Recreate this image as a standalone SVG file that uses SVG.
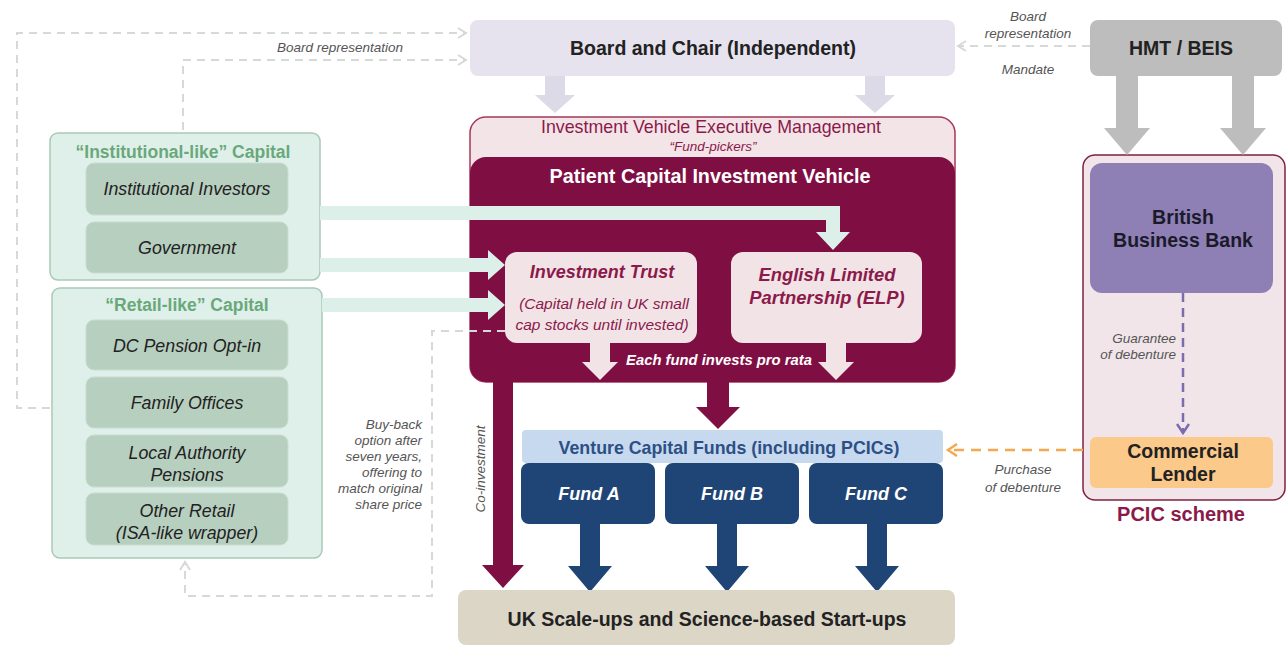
<svg xmlns="http://www.w3.org/2000/svg" width="1286" height="648" viewBox="0 0 1286 648">
<defs>
<style>
text{font-family:"Liberation Sans",Arial,sans-serif}
.b{font-weight:bold}
.i{font-style:italic}
.lbl{font-size:13.5px;font-style:italic;fill:#555}
.dash{fill:none;stroke:#d6dad6;stroke-width:2;stroke-dasharray:8,6}
.inner{fill:#b7cfbf;stroke:#c9dccf;stroke-width:1}
.itxt{font-size:17.8px;font-style:italic;fill:#222;text-anchor:middle}
.fund{fill:#1f4576}
.ftxt{font-size:18px;font-weight:bold;font-style:italic;fill:#fff;text-anchor:middle}
</style>
<marker id="ag" markerWidth="12" markerHeight="12" refX="10" refY="6" orient="auto" markerUnits="userSpaceOnUse"><path d="M2,1 L10,6 L2,11" fill="none" stroke="#d6dad6" stroke-width="2"/></marker>
<marker id="ap" markerWidth="14" markerHeight="14" refX="11" refY="7" orient="auto" markerUnits="userSpaceOnUse"><path d="M2,1 L11,7 L2,13" fill="none" stroke="#7b6cb0" stroke-width="2.5"/></marker>
<marker id="ao" markerWidth="14" markerHeight="14" refX="11" refY="7" orient="auto" markerUnits="userSpaceOnUse"><path d="M2,1 L11,7 L2,13" fill="none" stroke="#f6a84e" stroke-width="2.5"/></marker>
</defs>
<rect width="1286" height="648" fill="#fff"/>

<g id="board">
<rect x="470" y="20" width="485" height="56" rx="8" fill="#e6e3ef"/>
<text x="713" y="55" class="b" font-size="19.5" fill="#222" text-anchor="middle">Board and Chair (Independent)</text>
</g>
<text x="340" y="52" class="lbl" text-anchor="middle">Board representation</text>

<g id="hmt">
<rect x="1090" y="20" width="192" height="56" rx="8" fill="#bdbdbd"/>
<text x="1181" y="55" class="b" font-size="19.5" fill="#222" text-anchor="middle">HMT / BEIS</text>
</g>
<text x="1028" y="21" class="lbl" text-anchor="middle">Board</text>
<text x="1028" y="38" class="lbl" text-anchor="middle">representation</text>
<text x="1028" y="74" class="lbl" text-anchor="middle">Mandate</text>

<g id="institutional">
<rect x="50" y="133" width="270" height="147" rx="8" fill="#dff0ea" stroke="#a9c9b6" stroke-width="1.5"/>
<text x="183" y="158" class="b" font-size="17.5" fill="#6aa87a" text-anchor="middle">“Institutional-like” Capital</text>
<rect class="inner" x="86" y="163" width="202" height="52" rx="8"/>
<text x="187" y="195" class="itxt">Institutional Investors</text>
<rect class="inner" x="86" y="222" width="202" height="51" rx="8"/>
<text x="187" y="254" class="itxt">Government</text>
</g>

<g id="retail">
<rect x="52" y="288" width="270" height="270" rx="8" fill="#dff0ea" stroke="#a9c9b6" stroke-width="1.5"/>
<text x="187" y="311" class="b" font-size="17.5" fill="#6aa87a" text-anchor="middle">“Retail-like” Capital</text>
<rect class="inner" x="86" y="320" width="202" height="50" rx="8"/>
<text x="187" y="352" class="itxt">DC Pension Opt-in</text>
<rect class="inner" x="86" y="377" width="202" height="51" rx="8"/>
<text x="187" y="409" class="itxt">Family Offices</text>
<rect class="inner" x="86" y="435" width="202" height="52" rx="8"/>
<text x="187" y="459" class="itxt">Local Authority</text>
<text x="187" y="481" class="itxt">Pensions</text>
<rect class="inner" x="86" y="493" width="202" height="52" rx="8"/>
<text x="187" y="517" class="itxt">Other Retail</text>
<text x="187" y="539" class="itxt">(ISA-like wrapper)</text>
</g>

<g id="buyback-label">
<text x="422" y="429" class="lbl" text-anchor="end">Buy-back</text>
<text x="422" y="445" class="lbl" text-anchor="end">option after</text>
<text x="422" y="461" class="lbl" text-anchor="end">seven years,</text>
<text x="422" y="477" class="lbl" text-anchor="end">offering to</text>
<text x="422" y="493" class="lbl" text-anchor="end">match original</text>
<text x="422" y="509" class="lbl" text-anchor="end">share price</text>
</g>

<g id="executive">
<rect x="470" y="117" width="485" height="265" rx="16" fill="#f3e4e8" stroke="#a5385a" stroke-width="1.5"/>
<text x="711" y="133" font-size="17.8" fill="#8b1a4a" text-anchor="middle">Investment Vehicle Executive Management</text>
<text x="713" y="151" class="i" font-size="13.5" fill="#8b1a4a" text-anchor="middle">“Fund-pickers”</text>
</g>

<g id="vehicle">
<rect x="470" y="157" width="485" height="225" rx="16" fill="#7f0f42"/>
<text x="710" y="183" class="b" font-size="19.8" fill="#fff" text-anchor="middle">Patient Capital Investment Vehicle</text>
</g>

<g id="capital-arrows">
<polygon fill="#dcefe8" points="320,206 840,206 840,232 850,232 833,250 816,232 826,232 826,220 320,220"/>
<polygon fill="#dcefe8" points="320,258 488,258 488,250 505,265 488,280 488,272 320,272"/>
<polygon fill="#dcefe8" points="322,298 488,298 488,290 505,305 488,320 488,312 322,312"/>
</g>

<g id="trust">
<rect x="505" y="252" width="192" height="91" rx="12" fill="#f2e3e7"/>
<text x="602" y="278" class="b i" font-size="18" fill="#8b1a4a" text-anchor="middle">Investment Trust</text>
<text x="604" y="309" class="i" font-size="15.5" fill="#8b1a4a" text-anchor="middle">(Capital held in UK small</text>
<text x="602" y="330" class="i" font-size="15.5" fill="#8b1a4a" text-anchor="middle">cap stocks until invested)</text>
</g>

<g id="elp">
<rect x="731" y="252" width="191" height="91" rx="12" fill="#f2e3e7"/>
<text x="827" y="281" class="b i" font-size="18.4" fill="#8b1a4a" text-anchor="middle">English Limited</text>
<text x="827" y="304" class="b i" font-size="18.4" fill="#8b1a4a" text-anchor="middle">Partnership (ELP)</text>
</g>

<g id="prorata">
<polygon fill="#f2e3e7" points="590,343 610,343 610,362 618,362 600,380 582,362 590,362"/>
<polygon fill="#f2e3e7" points="826,343 846,343 846,362 854,362 836,380 818,362 826,362"/>
<text x="719" y="365" class="b i" font-size="14.8" fill="#fff" text-anchor="middle">Each fund invests pro rata</text>
</g>

<g id="main-arrows">
<polygon fill="#7f0f42" points="707,382 729,382 729,407 740,407 718,429 696,407 707,407"/>
<polygon fill="#7f0f42" points="493,382 513,382 513,565 524,565 503,588 482,565 493,565"/>
<text transform="translate(485,469) rotate(-90)" class="lbl" font-size="13.5" text-anchor="middle">Co-investment</text>
</g>

<g id="vc">
<rect x="522" y="430" width="421" height="33" rx="4" fill="#c6d9ef"/>
<text x="729" y="454" class="b" font-size="17.8" fill="#2d4f84" text-anchor="middle">Venture Capital Funds (including PCICs)</text>
</g>
<g id="fundA"><rect class="fund" x="521" y="463" width="134" height="61" rx="8"/><text x="589" y="500" class="ftxt">Fund A</text></g>
<g id="fundB"><rect class="fund" x="665" y="463" width="134" height="61" rx="8"/><text x="732" y="500" class="ftxt">Fund B</text></g>
<g id="fundC"><rect class="fund" x="809" y="463" width="134" height="61" rx="8"/><text x="876" y="500" class="ftxt">Fund C</text></g>

<g id="fund-arrows">
<polygon fill="#1f4576" points="580,524 600,524 600,566 612,566 590,592 568,566 580,566"/>
<polygon fill="#1f4576" points="717,524 737,524 737,566 749,566 727,592 705,566 717,566"/>
<polygon fill="#1f4576" points="867,524 887,524 887,566 899,566 877,592 855,566 867,566"/>
</g>

<g id="scaleups">
<rect x="458" y="590" width="497" height="55" rx="8" fill="#dcd6c6"/>
<text x="707" y="626" class="b" font-size="19.5" fill="#222" text-anchor="middle">UK Scale-ups and Science-based Start-ups</text>
</g>

<g id="pcic">
<rect x="1083" y="155" width="202" height="345" rx="12" fill="#f1e5ea" stroke="#7f2042" stroke-width="1.5"/>
<text x="1181" y="521" class="b" font-size="20" fill="#8b1a4a" text-anchor="middle">PCIC scheme</text>
</g>

<g id="bbb">
<rect x="1090" y="163" width="183" height="130" rx="12" fill="#8e7fb5"/>
<text x="1183" y="224" class="b" font-size="19.5" fill="#1a1a2a" text-anchor="middle">British</text>
<text x="1183" y="247" class="b" font-size="19.5" fill="#1a1a2a" text-anchor="middle">Business Bank</text>
</g>
<text x="1176" y="343" class="lbl" font-size="12.3" text-anchor="end">Guarantee</text>
<text x="1176" y="359" class="lbl" font-size="12.3" text-anchor="end">of debenture</text>

<g id="lender">
<rect x="1090" y="437" width="183" height="51" rx="6" fill="#fbc98a"/>
<text x="1183" y="458" class="b" font-size="19.5" fill="#222" text-anchor="middle">Commercial</text>
<text x="1183" y="481" class="b" font-size="19.5" fill="#222" text-anchor="middle">Lender</text>
</g>
<text x="1023" y="474" class="lbl" font-size="12.5" text-anchor="middle">Purchase</text>
<text x="1023" y="492" class="lbl" font-size="12.5" text-anchor="middle">of debenture</text>

<g id="connectors">
<path class="dash" d="M50,408 H17 V33 H466" marker-end="url(#ag)"/>
<path class="dash" d="M183,130 V60 H466" marker-end="url(#ag)"/>
<path class="dash" d="M1090,46 H958" marker-end="url(#ag)"/>
<path class="dash" d="M505,331 H432 V596 H185 V562" marker-end="url(#ag)"/>
<polygon fill="#dcdae6" points="545,76 565,76 565,95 575,95 555,113 535,95 545,95"/>
<polygon fill="#dcdae6" points="865,76 885,76 885,95 895,95 875,113 855,95 865,95"/>
<polygon fill="#bdbdbd" points="1116,76 1138,76 1138,128 1150,128 1127,155 1104,128 1116,128"/>
<polygon fill="#bdbdbd" points="1232,76 1254,76 1254,128 1266,128 1243,155 1220,128 1232,128"/>
<path d="M1183,293 V433" fill="none" stroke="#7b6cb0" stroke-width="2.5" stroke-dasharray="9,6" marker-end="url(#ap)"/>
<path d="M1083,450 H948" fill="none" stroke="#f6a84e" stroke-width="2.5" stroke-dasharray="10,7" marker-end="url(#ao)"/>
</g>
</svg>
